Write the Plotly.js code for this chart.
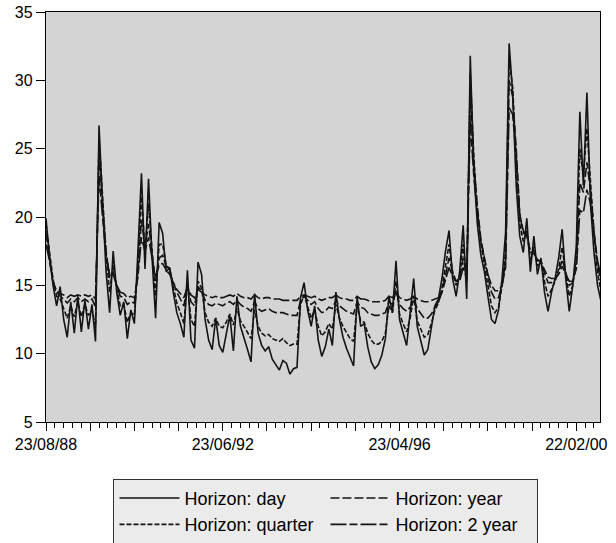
<!DOCTYPE html>
<html>
<head>
<meta charset="utf-8">
<script src="https://cdn.plot.ly/plotly-3.0.1.min.js"></script>
<style>
  html, body { margin: 0; padding: 0; background: #ffffff; }
  #chart { width: 616px; height: 543px; }
</style>
</head>
<body>
<div id="chart"></div>
<script>
// Volatility forecasts (annualised %, one value every 20 trading days)
const obsStep = 20;

const dayH = [
  19.9, 17.0, 15.0, 13.5, 14.9, 12.5, 11.2, 13.8, 11.5, 14.2,
  11.6, 13.9, 11.8, 13.6, 10.9, 26.7, 21.0, 16.0, 13.0, 17.5,
  14.5, 12.8, 13.8, 11.1, 13.2, 12.2, 17.5, 23.2, 16.2, 22.8,
  17.0, 12.6, 19.6, 18.8, 16.0, 16.3, 14.5, 13.0, 12.2, 11.2,
  16.1, 11.0, 10.4, 16.7, 15.8, 12.5, 11.0, 10.3, 12.6, 10.6,
  10.1, 11.6, 12.8, 10.2, 14.2, 12.0, 11.2, 10.3, 9.4, 14.4,
  11.5, 10.6, 10.2, 10.5, 9.6, 9.2, 8.8, 9.5, 9.3, 8.5,
  8.9, 9.0, 14.1, 15.2, 13.2, 12.0, 13.5, 11.0, 9.8, 10.5,
  11.8, 10.6, 14.5, 12.5, 11.2, 10.4, 9.8, 9.1, 14.2, 12.0,
  12.2, 10.5, 9.4, 8.9, 9.2, 9.9, 11.1, 14.2, 13.0, 16.8,
  12.5, 11.5, 10.6, 13.0, 15.5, 12.0, 11.0, 9.9, 10.3, 12.0,
  13.5, 14.0, 15.5, 17.5, 19.0, 15.5, 14.2, 16.0, 19.4, 14.0,
  31.8, 23.5, 19.5, 17.2, 16.0, 14.2, 12.5, 12.2, 13.2, 15.5,
  18.9, 32.7, 29.0, 22.3, 18.6, 17.4, 19.9, 16.0, 18.6, 15.8,
  17.0, 14.5, 13.1, 14.5, 15.5, 17.0, 19.1, 15.5, 13.1, 15.0,
  17.9, 27.7, 22.3, 29.1, 21.0, 17.4, 15.0, 13.8
];

const quarterH = [
  19.5, 17.3, 15.4, 14.2, 14.0, 13.3, 12.6, 13.5, 12.7, 13.8,
  12.7, 13.6, 12.8, 13.2, 12.0, 25.8, 21.5, 17.2, 14.5, 16.5,
  14.8, 13.5, 13.6, 12.3, 13.0, 12.8, 16.5, 21.5, 17.5, 21.0,
  17.5, 14.2, 18.0, 18.0, 16.5, 16.2, 14.9, 13.7, 13.0, 12.2,
  15.2, 12.5, 12.0, 15.3, 14.8, 13.0, 12.3, 12.0, 12.6, 12.0,
  11.9, 12.3, 12.9, 12.1, 13.3, 12.4, 12.0, 11.6, 11.1, 13.2,
  12.0, 11.5, 11.3, 11.4, 11.1, 11.0, 10.9, 11.1, 10.8, 10.6,
  10.7, 10.7, 13.6, 14.3, 13.4, 12.6, 13.2, 12.0, 11.3, 11.6,
  12.2, 11.8, 13.6, 12.6, 12.0, 11.5, 11.1, 10.9, 13.5, 12.4,
  12.3, 11.5, 11.0, 10.7, 10.7, 10.9, 11.5, 13.5, 13.0, 15.3,
  12.9, 12.2, 11.6, 12.6, 14.2, 12.4, 11.8, 11.2, 11.4, 12.2,
  13.2, 13.7, 14.8, 16.5, 18.0, 16.0, 15.0, 15.6, 18.0, 15.2,
  30.5, 24.5, 20.5, 18.0, 16.6, 15.0, 13.5, 13.0, 13.4, 15.0,
  17.5, 31.5, 29.5, 24.0, 19.5, 18.2, 19.0, 16.8, 17.8, 16.4,
  16.8, 15.3, 14.2, 14.7, 15.3, 16.2, 17.8, 15.8, 14.2, 15.0,
  17.0, 25.0, 23.0, 26.5, 22.5, 18.8, 16.0, 14.5
];

const yearH = [
  18.8, 17.0, 15.3, 14.5, 14.2, 14.0, 13.7, 14.0, 13.8, 14.1,
  13.8, 14.0, 13.8, 14.0, 13.4, 24.5, 20.8, 17.5, 15.5, 16.0,
  15.0, 14.2, 14.1, 13.6, 13.8, 13.7, 16.0, 19.8, 17.8, 19.5,
  17.3, 15.3, 17.0, 17.2, 16.4, 16.0, 15.2, 14.5, 14.0, 13.5,
  15.0, 13.8, 13.5, 14.9, 14.6, 13.9, 13.6, 13.5, 13.7, 13.6,
  13.5, 13.7, 13.8, 13.6, 13.9, 13.6, 13.4, 13.3, 13.1, 13.8,
  13.3, 13.1, 13.2, 13.3, 13.1, 13.0, 13.0, 13.0, 12.9, 12.8,
  12.8, 12.8, 13.9, 14.2, 13.9, 13.6, 13.8, 13.3, 13.0, 13.1,
  13.4, 13.3, 13.9, 13.5, 13.3, 13.1, 13.0, 12.9, 13.8, 13.4,
  13.3, 13.0, 12.9, 12.8, 12.8, 12.9, 13.0, 13.8, 13.6, 14.6,
  13.6, 13.3, 13.1, 13.4, 14.0, 13.3, 12.9, 12.6, 12.6, 12.9,
  13.4, 13.8, 14.5, 15.8, 17.0, 16.0, 15.3, 15.5, 17.0, 15.6,
  29.0, 24.0, 20.8, 18.4, 17.0, 15.6, 14.5, 14.0, 14.1, 15.0,
  16.8, 30.0, 28.8, 25.0, 20.2, 18.8, 18.8, 17.4, 17.5, 16.8,
  16.8, 15.9, 15.2, 15.2, 15.4, 15.9, 16.9, 15.9, 15.0, 15.2,
  16.5, 22.5, 21.8, 24.0, 22.0, 19.0, 16.5, 15.2
];

const twoYearH = [
  18.0, 16.8, 15.2, 14.6, 14.4, 14.3, 14.1, 14.3, 14.2, 14.3,
  14.2, 14.3, 14.2, 14.3, 14.0, 23.0, 20.0, 17.2, 15.8, 15.8,
  15.0, 14.5, 14.4, 14.1, 14.2, 14.1, 15.6, 18.5, 17.5, 18.5,
  17.0, 15.6, 16.5, 16.6, 16.1, 15.8, 15.2, 14.7, 14.4, 14.1,
  14.9, 14.3, 14.1, 14.7, 14.5, 14.3, 14.2, 14.1, 14.2, 14.1,
  14.1, 14.2, 14.3, 14.2, 14.4, 14.2, 14.1, 14.1, 14.0, 14.3,
  14.1, 14.0, 14.1, 14.1, 14.0, 14.0, 14.0, 13.9, 13.9, 13.9,
  13.9, 13.9, 14.2, 14.3, 14.2, 14.1, 14.2, 14.0, 13.9, 14.0,
  14.1, 14.1, 14.3, 14.1, 14.0, 14.0, 13.9, 13.9, 14.2, 14.0,
  14.0, 13.9, 13.8, 13.8, 13.8, 13.8, 13.9, 14.2, 14.1, 14.5,
  14.1, 14.0, 13.9, 14.0, 14.2, 14.0, 13.9, 13.8, 13.8, 13.9,
  14.0, 14.1, 14.5, 15.4, 16.3, 15.7, 15.3, 15.3, 16.3, 15.5,
  27.0, 23.0, 20.3, 18.2, 17.0, 15.8, 15.0, 14.6, 14.6, 15.0,
  16.3, 28.0, 27.5, 24.5, 20.2, 19.0, 18.6, 17.5, 17.3, 16.9,
  16.7, 16.1, 15.6, 15.5, 15.5, 15.8, 16.4, 15.8, 15.3, 15.3,
  16.2, 20.5, 20.3, 22.0, 21.0, 18.8, 16.8, 15.6
];

// Date labels placed every 1000 trading days
const labelObs = [0, 1000, 2000, 3000];
const labelDates = ['23/08/88', '23/06/92', '23/04/96', '22/02/00'];

const obs = dayH.map((_, i) => i * obsStep);

// major ticks every 250 trading days, only the 1000s carry a date
const majorTicks = [];
const majorText = [];
for (let t = 0; t <= 3000; t += 250) {
  majorTicks.push(t);
  const k = labelObs.indexOf(t);
  majorText.push(k >= 0 ? labelDates[k] : '');
}

const ink = '#141414';
const mk = (name, y, dash) => ({
  type: 'scatter', mode: 'lines', name: name, x: obs, y: y,
  line: { color: ink, width: 1.6, dash: dash },
  hoverinfo: 'skip'
});

const traces = [
  mk('Horizon: day', dayH, 'solid'),
  mk('Horizon: year', yearH, '9px,3px'),
  mk('Horizon: quarter', quarterH, '5px,2px'),
  mk('Horizon: 2 year', twoYearH, '16px,3px,8px,3px')
];

const layout = {
  width: 616, height: 543,
  margin: { l: 46, r: 16, t: 12, b: 121, pad: 0, autoexpand: false },
  paper_bgcolor: '#ffffff',
  plot_bgcolor: '#d4d4d4',
  font: { family: 'Liberation Sans, Arial, Helvetica, sans-serif', size: 16, color: '#000000' },
  showlegend: true,
  xaxis: {
    range: [0, 3134],
    tickmode: 'array', tickvals: majorTicks, ticktext: majorText,
    ticks: 'outside', ticklen: 8, tickwidth: 1, tickcolor: '#000',
    minor: { tick0: 0, dtick: 50, ticks: 'outside', ticklen: 5, tickwidth: 1, tickcolor: '#000', showgrid: false },
    showline: true, linecolor: '#000', linewidth: 1.2, mirror: true,
    showgrid: false, zeroline: false, fixedrange: true
  },
  yaxis: {
    range: [5, 35], tick0: 5, dtick: 5,
    ticks: 'outside', ticklen: 9, tickwidth: 1, tickcolor: '#000',
    showline: true, linecolor: '#000', linewidth: 1.2, mirror: true,
    showgrid: false, zeroline: false, fixedrange: true
  },
  legend: {
    orientation: 'h', traceorder: 'normal',
    x: 0.505, xanchor: 'center', y: -0.138, yanchor: 'top',
    bgcolor: '#ebebeb', bordercolor: '#333333', borderwidth: 1.2,
    font: { size: 18, color: '#000' },
    itemwidth: 60,
    entrywidth: 136, entrywidthmode: 'pixels'
  }
};

Plotly.newPlot('chart', traces, layout, { displayModeBar: false, staticPlot: true });
</script>
</body>
</html>
